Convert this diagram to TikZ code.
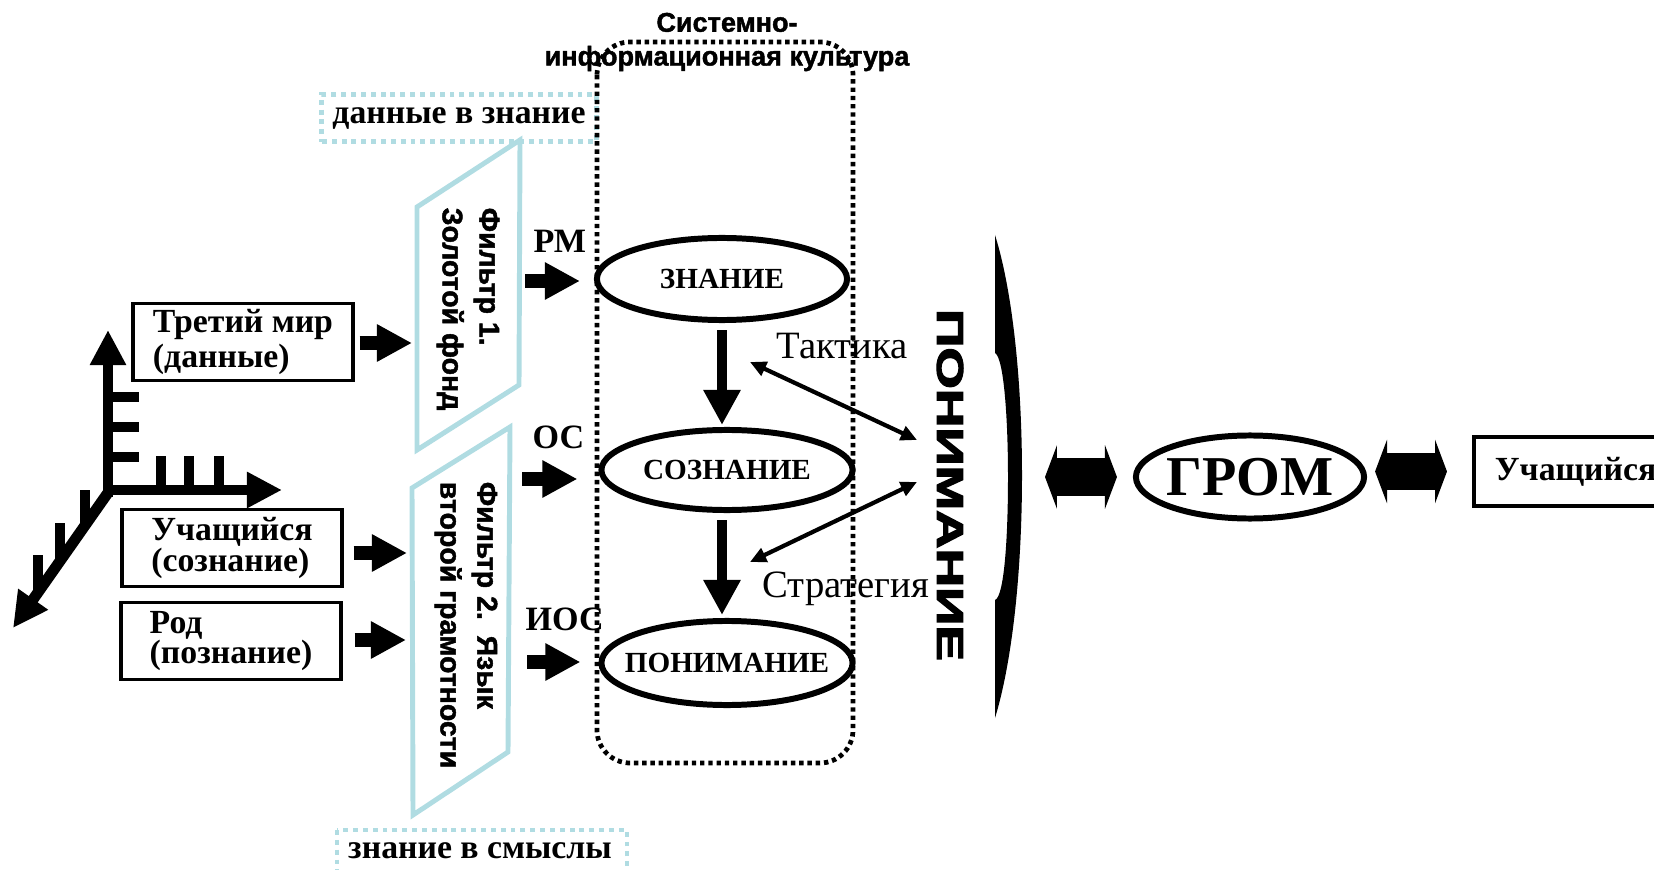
\documentclass[tikz,border=0pt]{standalone}
\usepackage{fontspec}
\usepackage{graphicx}
\setmainfont{Liberation Serif}
\newfontfamily\arialfont{Liberation Sans}[FakeBold=1.6]
\newfontfamily\heavyfont{Liberation Sans}[FakeBold=3]
\usetikzlibrary{arrows.meta,shapes.geometric,positioning}
\definecolor{filtblue}{RGB}{176,220,226}
\tikzset{
  box/.style={draw, line width=0.95pt, minimum width=2.2cm, minimum height=0.77cm, align=left, inner sep=0pt, font=\fontsize{9.6pt}{8.6pt}\selectfont\bfseries},
  oval/.style={draw, ellipse, line width=1.7pt, minimum width=2.5cm, minimum height=0.82cm, inner sep=0pt, font=\fontsize{8.3pt}{10pt}\selectfont\bfseries},
  filt/.style={draw=filtblue, line width=1.4pt},
  filttext/.style={rotate=-90, align=left, inner sep=0pt, font=\arialfont\fontsize{8.1pt}{10.5pt}\selectfont\bfseries},
  bluedot/.style={draw=filtblue, line width=1.4pt, dash pattern=on 1.4pt off 1.4pt},
  blackdot/.style={line width=1.35pt, dash pattern=on 1.25pt off 1.1pt},
  blk/.style={line width=3.7pt, -{Triangle[length=10pt,width=10pt]}},
  dnarr/.style={line width=2.85pt, -{Triangle[length=10pt,width=10pt]}},
  axis/.style={line width=3.1pt, -{Triangle[length=10pt,width=9.7pt]}},
  tick/.style={line width=2.85pt},
  thinarr/.style={line width=1.2pt, {Triangle[length=4.6pt,width=4.2pt]}-{Triangle[length=4.6pt,width=4.2pt]}},
  fatarr/.style={line width=10.6pt, {Triangle[length=3.4pt,width=18pt]}-{Triangle[length=3.4pt,width=18pt]}},
  lbl/.style={anchor=base west, inner sep=0pt, font=\fontsize{9.7pt}{10pt}\selectfont\bfseries},
  word/.style={anchor=base, inner sep=0pt, font=\fontsize{11pt}{12pt}\selectfont},
}
\begin{document}
\begin{tikzpicture}[x=0.01cm, y=-0.01cm]
\useasboundingbox (0,0) rectangle (1654,870);
\clip (0,0) rectangle (1654,870);

\draw[axis] (108,497) -- (108,330);
\draw[axis] (103,490) -- (282,490);
\draw[axis] (112,487) -- (13,628);
\foreach \y in {397,427,457} \draw[tick] (108,\y) -- (139,\y);
\foreach \x in {161,189,219} \draw[tick] (\x,490) -- (\x,456);
\foreach \x/\t in {85/490,60/523,38/555} \draw[tick] (\x,\t) -- (\x,{487+(112-\x)*1.424});

\node[box] (tretiy) at (243,342) {Третий мир\\(данные)};
\node[box] (uch) at (232,548) {Учащийся\\(сознание)};
\node[box] (rod) at (231,641) {Род\\(познание)};

\draw[filt] (417,207) -- (520,140) -- (519,385) -- (417,450) -- cycle;
\draw[filt] (412,488) -- (510,427) -- (508,752) -- (413,815) -- cycle;
\node[filttext] (filt1) at (468,309) {Фильтр 1.\\Золотой фонд};
\node[filttext] (filt2) at (466,625) {Фильтр 2.\ \ Язык\\второй грамотности};
\coordinate (f1in) at (412,343);
\coordinate (f2ina) at (407,553);
\coordinate (f2inb) at (406,640);
\draw[blk, shorten <=0.05cm] (tretiy.east |- f1in) -- (f1in);
\draw[blk, shorten <=0.1cm] (uch.east |- f2ina) -- (f2ina);
\draw[blk, shorten <=0.12cm] (rod.east |- f2inb) -- (f2inb);

\node[bluedot, minimum width=2.74cm, minimum height=0.47cm, inner sep=0pt, font=\fontsize{9.6pt}{10pt}\selectfont\bfseries] (dannye) at (459,118) {данные в знание};
\draw[bluedot] (337,830) rectangle (627,900);
\node[anchor=base, inner sep=0pt, font=\fontsize{9.6pt}{10pt}\selectfont\bfseries] (smysly) at (480,858) {знание в смыслы};

\draw[blackdot, rounded corners=0.33cm] (597,42) rectangle (853,763);
\node[align=center, inner sep=0pt, font=\arialfont\fontsize{7.7pt}{9.6pt}\selectfont\bfseries] (kult) at (727,42) {Системно-\\информационная культура};

\node[oval] (znanie) at (722,279) {\makebox[0pt]{ЗНАНИЕ}};
\node[oval, minimum width=2.51cm, minimum height=0.8cm] (sozn) at (727,470) {\makebox[0pt]{СОЗНАНИЕ}};
\node[oval, minimum width=2.51cm, minimum height=0.84cm] (ponim) at (727,663) {\makebox[0pt]{ПОНИМАНИЕ}};
\draw[dnarr, shorten <=0.07cm, shorten >=0.02cm] (znanie.south) -- (znanie.south |- sozn.north);
\draw[dnarr, shorten <=0.07cm, shorten >=0.03cm] (sozn.south -| znanie.south) -- (ponim.north -| znanie.south);

\node[lbl] (rm) at (533,252) {РМ};
\node[lbl] (os) at (532,448) {ОС};
\node[lbl] (ios) at (525,630) {ИОС};
\coordinate (rmst) at (525,281);
\coordinate (osst) at (522,479);
\coordinate (iosst) at (527,662);
\draw[blk, shorten >=0.14cm] (rmst) -- (rmst -| znanie.west);
\draw[blk, shorten >=0.21cm] (osst) -- (osst -| sozn.west);
\draw[blk, shorten >=0.18cm] (iosst) -- (iosst -| ponim.west);

\node[word] (takt) at (842,358) {Тактика};
\node[word] (strat) at (846,597) {Стратегия};
\coordinate (ta) at (750,362);
\coordinate (tb) at (917,440);
\coordinate (sa) at (917,482);
\coordinate (sb) at (750,562);
\draw[thinarr] (ta) -- (tb);
\draw[thinarr] (sa) -- (sb);

\node[rotate=-90, inner sep=0pt, font=\heavyfont\fontsize{10.6pt}{12pt}\selectfont\bfseries] (ponbig) at (950,485) {\scalebox{1.43}[1]{ПОНИМАНИЕ}};
\fill (995,235) -- (995,353) .. controls (1004,358) and (1008,420) .. (1008,477) .. controls (1008,540) and (1004,597) .. (995,600) -- (995,718) .. controls (1031,600) and (1031,350) .. (995,235) -- cycle;
\coordinate (brk) at (1022,477);

\node[oval, minimum width=2.28cm, minimum height=0.83cm, font=\fontsize{16pt}{18pt}\selectfont\bfseries] (grom) at (1250,477) {\makebox[0pt]{ГРОМ}};
\node[box, anchor=west, minimum height=0.69cm, text width=2.1cm, inner xsep=0.21cm, line width=1.1pt] (uch2) at (1472,471.5) {Учащийся};
\draw[fatarr, shorten <=0.23cm, shorten >=0.16cm] (brk) -- (grom.west);
\draw[fatarr, shorten <=0.08cm, shorten >=0.25cm] (grom.east |- uch2.west) -- (uch2.west);
\end{tikzpicture}
\end{document}
